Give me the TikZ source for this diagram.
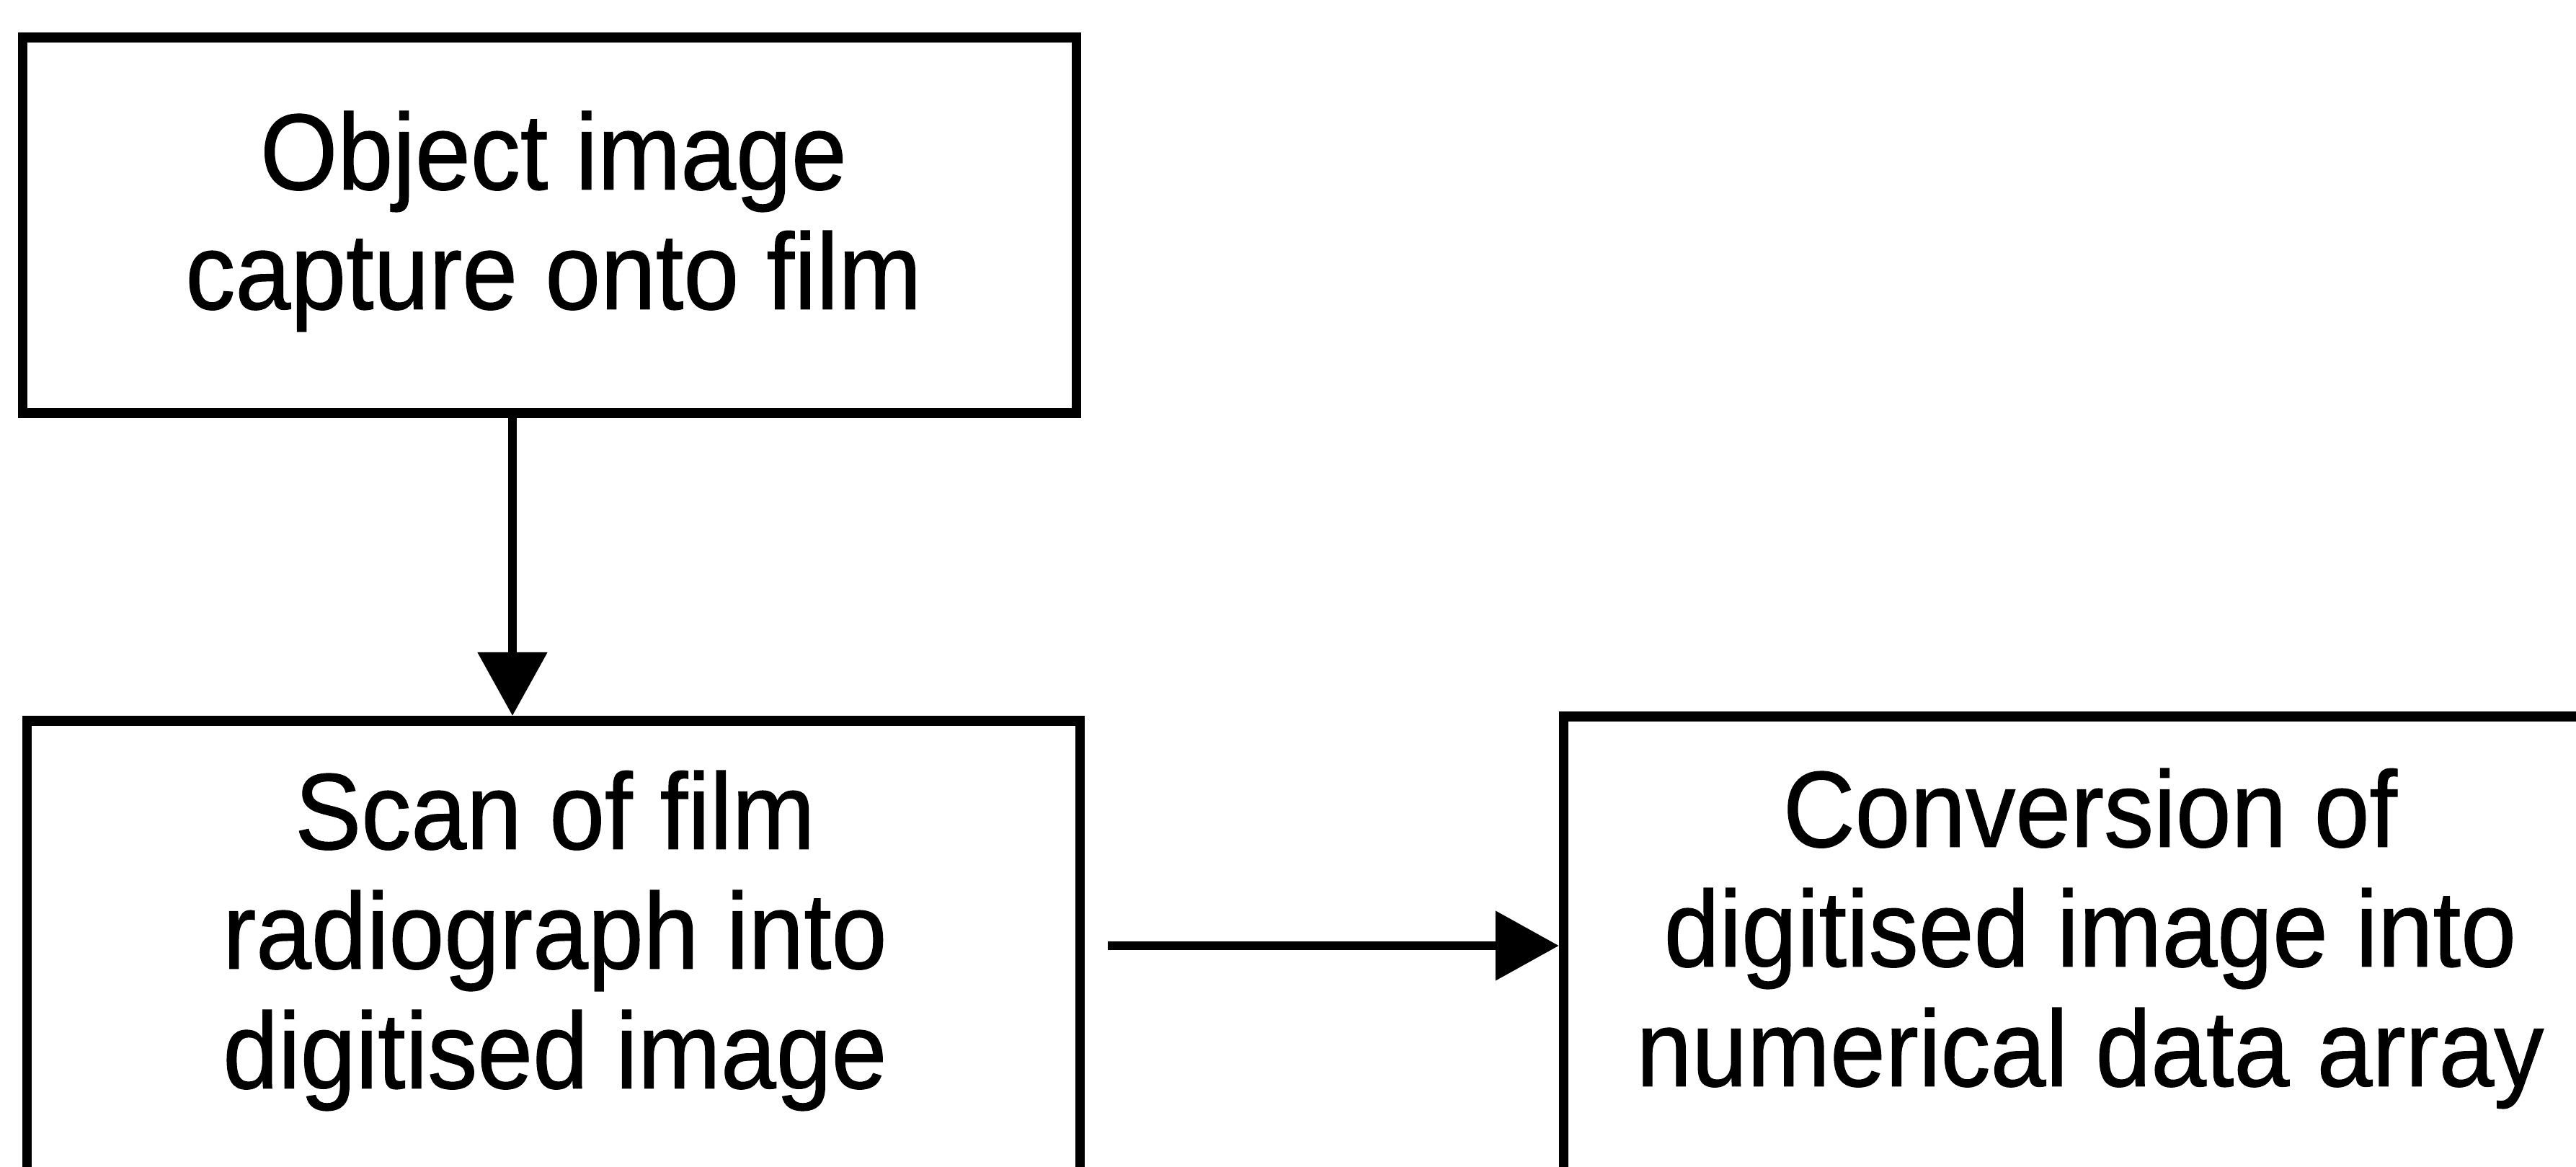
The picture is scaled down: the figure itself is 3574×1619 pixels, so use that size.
\documentclass[tikz,border=0pt]{standalone}
\usepackage{fontspec}
\setmainfont{Liberation Sans}
\newfontfamily\stagefont[FakeStretch=0.92, FakeBold=0.8]{Liberation Sans}
\usetikzlibrary{arrows.meta}

\tikzset{
  stagebox/.style={draw=black, line width=0.135cm, rectangle, inner sep=0pt, fill=none},
  stagetext/.style={align=center, inner sep=0pt, font=\stagefont\fontsize{42.7}{47.2}\selectfont},
  flow/.style={draw=black, line width=0.12cm,
    -{Triangle[length=0.88cm, width=0.94cm]}}
}

\begin{document}
\begin{tikzpicture}[x=0.01cm, y=-0.01cm]
  \useasboundingbox (0,0) rectangle (3574,1619);
  \clip (0,0) rectangle (3574,1619);
  \fill[white] (0,0) rectangle (3574,1619);

  % process stages (the lower two run past the page edge)
  \node[stagebox, minimum width=14.61cm, minimum height=5.21cm] (b1) at (762.5,312.5) {};
  \node[stagebox, minimum width=14.60cm, minimum height=7.50cm] (b2) at (768,1375) {};
  \node[stagebox, minimum width=14.60cm, minimum height=7.56cm] (b3) at (2900,1372) {};

  % stage labels
  \node[stagetext] (t1) at (768,307) {Object image\\capture onto film};
  \node[stagetext] (t2) at (770,1305) {Scan of film\\radiograph into\\digitised image};
  \node[stagetext] (t3) at (2900,1302) {Conversion of\\digitised image into\\numerical data array};

  % connectors
  \coordinate (a1) at (711,0);
  \coordinate (s2) at (1537,1312);
  \draw[flow] (b1.south -| a1) -- (b2.north -| a1);
  \draw[flow] (s2) -- (s2 -| b3.west);
\end{tikzpicture}
\end{document}
